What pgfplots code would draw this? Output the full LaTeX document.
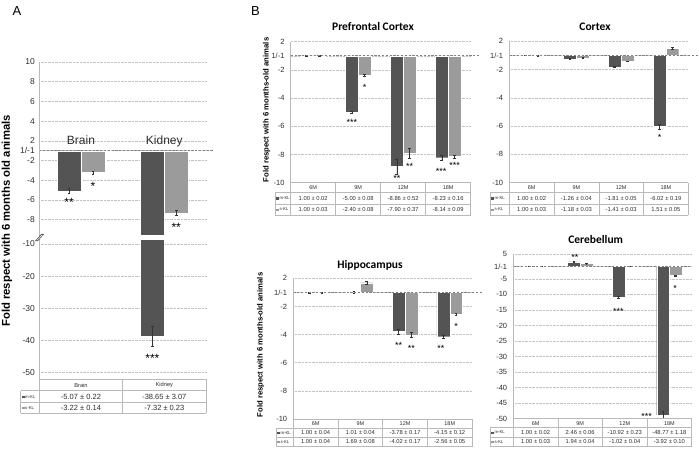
\documentclass[border=0pt]{standalone}
\usepackage{pgfplots}
\pgfplotsset{compat=1.18}
\usepackage{pgfplotstable}
\usepackage{fontspec}
\setmainfont{Liberation Sans}
\newfontfamily\titlefont{Carlito}
\definecolor{mkl}{RGB}{84,84,84}
\definecolor{skl}{RGB}{155,155,155}
\definecolor{txt}{RGB}{45,45,45}
\definecolor{gridc}{RGB}{195,195,195}
\definecolor{tblc}{RGB}{185,185,185}
\definecolor{basec}{RGB}{130,130,130}

% x = category index, m = m-KL fold, me = its error, s = s-KL fold, se = its error
\pgfplotstableread{
x m me s se
0 -5.07 0.22 -3.22 0.14
1 -38.65 3.07 -7.32 0.23
}\dataA
\pgfplotstableread{
x m me s se
0 1.00 0.02 1.00 0.03
1 -5.00 0.08 -2.40 0.08
2 -8.86 0.52 -7.90 0.37
3 -8.23 0.16 -8.14 0.09
}\dataPFC
\pgfplotstableread{
x m me s se
0 1.00 0.02 1.00 0.03
1 -1.26 0.04 -1.18 0.03
2 -1.81 0.05 -1.41 0.03
3 -6.02 0.19 1.51 0.05
}\dataCTX
\pgfplotstableread{
x m me s se
0 1.00 0.04 1.00 0.04
1 1.01 0.04 1.69 0.08
2 -3.78 0.17 -4.02 0.17
3 -4.15 0.12 -2.56 0.05
}\dataHIP
\pgfplotstableread{
x m me s se
0 1.00 0.02 1.00 0.03
1 2.46 0.06 1.94 0.04
2 -10.92 0.23 -1.02 0.04
3 -48.77 1.18 -3.92 0.10
}\dataCER

\pgfplotsset{
  foldaxis/.style={
    scale only axis, anchor=south west,
    xmin=-0.5, xmax=3.5, xtick=\empty,
    ymajorgrids, grid style={densely dotted, gridc, line width=0.5pt},
    axis line style={draw=none},
    ytick style={draw=none},
    yticklabel style={inner sep=0pt, font=\fontsize{7.5}{8}\selectfont, text=txt},
    clip mode=individual,
  },
  mbar/.style={ybar, bar width=0.286, bar shift=0, fill=mkl, draw=white, line width=0.3pt},
  sbar/.style={ybar, bar width=0.286, bar shift=0, fill=skl, draw=white, line width=0.3pt},
  ebar/.style={error bars/y dir=both, error bars/y explicit,
    error bars/error bar style={line width=0.45pt, black!80},
    error bars/error mark options={rotate=90, mark size=1.3pt, line width=0.45pt, black!80}},
}
\tikzset{
  star/.style={font=\fontsize{9}{9}\selectfont, inner sep=0pt, anchor=base, yshift=-5.2pt, text=black},
  starA/.style={font=\fontsize{12}{12}\selectfont, inner sep=0pt, anchor=base, yshift=-6.9pt, text=black},
  zero/.style={basec, dash pattern=on 2.2pt off 1.6pt, line width=0.7pt},
}

% table frame: #1 label-col left, #2 plot left, #3 col width, #4 ncols, #5 top, #6 below header, #7 below row1, #8 bottom
\newcommand{\ftable}[8]{%
  \pgfmathsetmacro{\xR}{#2+#3*#4}%
  \draw[tblc, line width=0.5pt] (#2,#5) -- (\xR,#5);
  \draw[tblc, line width=0.5pt] (#1,#6) -- (\xR,#6);
  \draw[tblc, line width=0.5pt] (#1,#7) -- (\xR,#7);
  \draw[tblc, line width=0.5pt] (#1,#8) -- (\xR,#8);
  \draw[tblc, line width=0.5pt] (#1,#6) -- (#1,#8);
  \foreach \ii in {0,...,#4} {\draw[tblc, line width=0.5pt] ({#2+#3*\ii},#5) -- ({#2+#3*\ii},#8);}
}
% table row: #1 plot left, #2 col width, #3 y, #4 font size, #5 items
\newcommand{\trow}[5]{%
  \foreach \tx [count=\ii from 0] in {#5} {%
    \node[font=\fontsize{#4}{#4}\selectfont, text=txt, inner sep=0pt] at ({#1+#2*(\ii+0.5)},#3) {\tx};}
}
% row labels: #1 x, #2 y m-KL, #3 y s-KL, #4 font size
\newcommand{\rlab}[4]{%
  \node[font=\fontsize{#4}{#4}\selectfont, text=txt, anchor=west, inner sep=0pt] at (#1+1.2,#2) {\textcolor{mkl}{\rule{2.4pt}{2.4pt}}\,m-KL};
  \node[font=\fontsize{#4}{#4}\selectfont, text=txt, anchor=west, inner sep=0pt] at (#1+1.2,#3) {\textcolor{skl}{\rule{2.4pt}{2.4pt}}\,s-KL};
}

\begin{document}
\begin{tikzpicture}
\useasboundingbox (0pt,0pt) rectangle (699pt,452pt);

% ---------- Panel A, upper part ----------
\begin{axis}[foldaxis, at={(39.3pt,217pt)}, width=166.7pt, height=173pt,
  xmin=-0.5, xmax=1.5, ymin=-8.553, ymax=9,
  ytick={9,7,5,3,1,0,-1,-3,-5,-7},
  yticklabels={10,8,6,4,2,1/-1,-2,-4,-6,-8},
  yticklabel style={font=\fontsize{8.5}{9}\selectfont, xshift=-4.3pt}]
\addplot[mbar, ebar] table[x expr={\thisrow{x}-0.143}, y expr={\thisrow{m}>0 ? \thisrow{m}-1 : \thisrow{m}+1}, y error=me] {\dataA};
\addplot[sbar, ebar] table[x expr={\thisrow{x}+0.143}, y expr={\thisrow{s}>0 ? \thisrow{s}-1 : \thisrow{s}+1}, y error=se] {\dataA};
\draw[zero] (axis cs:-0.5,0) -- (axis cs:1.58,0);
\node[anchor=base, font=\fontsize{12}{12}\selectfont, text=txt] at (axis cs:0,0.65) {Brain};
\node[anchor=base, font=\fontsize{12}{12}\selectfont, text=txt] at (axis cs:1,0.65) {Kidney};
\node[starA] at (axis cs:-0.143,-5.0) {**};
\node[starA] at (axis cs:0.143,-3.31) {*};
\node[starA] at (axis cs:1.143,-7.54) {**};
\end{axis}

% ---------- Panel A, lower part ----------
\begin{axis}[foldaxis, at={(39.3pt,72.7pt)}, width=166.7pt, height=140pt,
  xmin=-0.5, xmax=1.5, ymin=-52.05, ymax=-8.54,
  ytick={-10,-20,-30,-40,-50}, yticklabels={-10,-20,-30,-40,-50},
  yticklabel style={font=\fontsize{8.5}{9}\selectfont, xshift=-4.3pt}]
\addplot[mbar, ebar] table[x expr={\thisrow{x}-0.143}, y=m, y error=me] {\dataA};
\node[starA] at (axis cs:0.857,-44.7) {***};
\end{axis}

% ---------- Prefrontal Cortex ----------
\begin{axis}[foldaxis, at={(290.7pt,269.3pt)}, width=180pt, height=141pt,
  ymin=-9, ymax=1, ytick={1,0,-1,-3,-5,-7,-9}, yticklabels={2,1/-1,-2,-4,-6,-8,-10},
  yticklabel style={xshift=-6pt}]
\addplot[mbar, ebar] table[x expr={\thisrow{x}-0.143}, y expr={\thisrow{m}>0 ? \thisrow{m}-1 : \thisrow{m}+1}, y error=me] {\dataPFC};
\addplot[sbar, ebar] table[x expr={\thisrow{x}+0.143}, y expr={\thisrow{s}>0 ? \thisrow{s}-1 : \thisrow{s}+1}, y error=se] {\dataPFC};
\draw[zero] (axis cs:-0.5,0) -- (axis cs:3.7,0);
\draw[tblc, line width=0.5pt] (rel axis cs:0,0) -- (rel axis cs:0,1);
\node[star] at (axis cs:0.857,-4.56) {***};
\node[star] at (axis cs:1.143,-2.08) {*};
\node[star] at (axis cs:1.857,-8.53) {**};
\node[star] at (axis cs:2.143,-7.68) {**};
\node[star] at (axis cs:2.845,-8.06) {***};
\node[star] at (axis cs:3.143,-7.63) {***};
\end{axis}

% ---------- Cortex ----------
\begin{axis}[foldaxis, at={(509.3pt,269.3pt)}, width=179pt, height=141.4pt,
  ymin=-9, ymax=1, ytick={1,0,-1,-3,-5,-7,-9}, yticklabels={2,1/-1,-2,-4,-6,-8,-10},
  yticklabel style={xshift=-6pt}]
\addplot[mbar, ebar] table[x expr={\thisrow{x}-0.143}, y expr={\thisrow{m}>0 ? \thisrow{m}-1 : \thisrow{m}+1}, y error=me] {\dataCTX};
\addplot[sbar, ebar] table[x expr={\thisrow{x}+0.143}, y expr={\thisrow{s}>0 ? \thisrow{s}-1 : \thisrow{s}+1}, y error=se] {\dataCTX};
\draw[zero] (axis cs:-0.5,0) -- (axis cs:3.72,0);
\draw[tblc, line width=0.5pt] (rel axis cs:0,0) -- (rel axis cs:0,1);
\node[star] at (axis cs:2.857,-5.62) {*};
\end{axis}

% ---------- Hippocampus ----------
\begin{axis}[foldaxis, at={(293.3pt,33pt)}, width=178.8pt, height=140.7pt,
  ymin=-9, ymax=1, ytick={1,0,-1,-3,-5,-7,-9}, yticklabels={2,1/-1,-2,-4,-6,-8,-10},
  yticklabel style={xshift=-6pt}]
\addplot[mbar, ebar] table[x expr={\thisrow{x}-0.143}, y expr={\thisrow{m}>0 ? \thisrow{m}-1 : \thisrow{m}+1}, y error=me] {\dataHIP};
\addplot[sbar, ebar] table[x expr={\thisrow{x}+0.143}, y expr={\thisrow{s}>0 ? \thisrow{s}-1 : \thisrow{s}+1}, y error=se] {\dataHIP};
\draw[zero] (axis cs:-0.5,0) -- (axis cs:3.73,0);
\draw[tblc, line width=0.5pt] (rel axis cs:0,0) -- (rel axis cs:0,1);
\node[star] at (axis cs:1.857,-3.62) {**};
\node[star] at (axis cs:2.143,-3.81) {**};
\node[star] at (axis cs:2.8,-3.86) {**};
\node[star] at (axis cs:3.143,-2.25) {*};
\end{axis}

% ---------- Cerebellum ----------
\begin{axis}[foldaxis, at={(513.3pt,33.3pt)}, width=178.4pt, height=164.7pt,
  ymin=-49, ymax=4, ytick={4,0,-4,-9,-14,-19,-24,-29,-34,-39,-44,-49},
  yticklabels={5,1/-1,-5,-10,-15,-20,-25,-30,-35,-40,-45,-50},
  yticklabel style={xshift=-6pt}]
\addplot[mbar, ebar] table[x expr={\thisrow{x}-0.143}, y expr={\thisrow{m}>0 ? \thisrow{m}-1 : \thisrow{m}+1}, y error=me] {\dataCER};
\addplot[sbar, ebar] table[x expr={\thisrow{x}+0.143}, y expr={\thisrow{s}>0 ? \thisrow{s}-1 : \thisrow{s}+1}, y error=se] {\dataCER};
\draw[zero] (axis cs:-0.5,0) -- (axis cs:3.5,0);
\draw[tblc, line width=0.5pt] (rel axis cs:0,0) -- (rel axis cs:0,1);
\node[star] at (axis cs:0.883,3.67) {**};
\node[star] at (axis cs:1.854,-13.7) {***};
\node[star] at (axis cs:2.49,-47.6) {***};
\node[star] at (axis cs:3.13,-6.3) {*};
\end{axis}

% ---------- texts and data tables (image pixel coordinates, y downwards) ----------
\begin{scope}[x=1pt, y=-1pt, yshift=452pt]
\node[font=\fontsize{13}{13}\selectfont] at (17,11) {A};
\node[font=\fontsize{13}{13}\selectfont] at (255.5,11) {B};
\node[font=\titlefont\bfseries\fontsize{11.5}{12}\selectfont] at (373,26.7) {Prefrontal Cortex};
\node[font=\titlefont\bfseries\fontsize{11.5}{12}\selectfont] at (595,26.7) {Cortex};
\node[font=\titlefont\bfseries\fontsize{11.5}{12}\selectfont] at (370,265) {Hippocampus};
\node[font=\titlefont\bfseries\fontsize{11.5}{12}\selectfont] at (595.7,239.3) {Cerebellum};
\node[rotate=90, font=\bfseries\fontsize{11.3}{12}\selectfont] at (7,221) {Fold respect with 6 months old animals};
\node[rotate=90, font=\bfseries\fontsize{7.7}{8}\selectfont] at (266.7,110) {Fold respect with 6 months-old animals};
\node[rotate=90, font=\bfseries\fontsize{7.7}{8}\selectfont] at (260.7,345) {Fold respect with 6 months-old animals};
% panel A axis line and break mark
\draw[tblc, line width=0.5pt] (39.3,62) -- (39.3,379.3);
\fill[mkl] (34.8,241.2) -- (37.8,241.2) -- (44.2,234) -- (41.2,234) -- cycle;
\fill[white] (36.6,240.3) -- (37.4,240.3) -- (42.6,234.9) -- (41.8,234.9) -- cycle;
% panel A table
\ftable{20.7}{39.3}{83.35}{2}{379.3}{390.7}{402.7}{413.3}
\trow{39.3}{83.35}{385}{5.7}{Brain,Kidney}
\trow{39.3}{83.35}{396.7}{7.5}{-5.07 ± 0.22,-38.65 ± 3.07}
\trow{39.3}{83.35}{408}{7.5}{-3.22 ± 0.14,-7.32 ± 0.23}
\rlab{20.7}{396.7}{408}{4.3}
% Prefrontal table
\ftable{275}{290.7}{45}{4}{182.7}{192.7}{204}{215}
\trow{290.7}{45}{187.7}{5.5}{6M,9M,12M,18M}
\trow{290.7}{45}{198.3}{5.8}{1.00 ± 0.02,-5.00 ± 0.08,-8.86 ± 0.52,-8.23 ± 0.16}
\trow{290.7}{45}{209.5}{5.8}{1.00 ± 0.03,-2.40 ± 0.08,-7.90 ± 0.37,-8.14 ± 0.09}
\rlab{275}{198.3}{209.5}{4.3}
% Cortex table
\ftable{490}{509.3}{44.75}{4}{182.7}{192.7}{204}{215}
\trow{509.3}{44.75}{187.7}{5.5}{6M,9M,12M,18M}
\trow{509.3}{44.75}{198.3}{5.8}{1.00 ± 0.02,-1.26 ± 0.04,-1.81 ± 0.05,-6.02 ± 0.19}
\trow{509.3}{44.75}{209.5}{5.8}{1.00 ± 0.03,-1.18 ± 0.03,-1.41 ± 0.03,1.51 ± 0.05}
\rlab{490}{198.3}{209.5}{4.3}
% Hippocampus table
\ftable{276}{293.3}{44.7}{4}{419}{428.3}{437.3}{446.7}
\trow{293.3}{44.7}{423.7}{5.5}{6M,9M,12M,18M}
\trow{293.3}{44.7}{432.8}{5.8}{1.00 ± 0.04,1.01 ± 0.04,-3.78 ± 0.17,-4.15 ± 0.12}
\trow{293.3}{44.7}{442}{5.8}{1.00 ± 0.04,1.69 ± 0.08,-4.02 ± 0.17,-2.56 ± 0.05}
\rlab{276}{432.8}{442}{4.3}
% Cerebellum table
\ftable{490}{513.3}{44.6}{4}{418.7}{427.7}{437.3}{446.7}
\trow{513.3}{44.6}{423.2}{5.5}{6M,9M,12M,18M}
\trow{513.3}{44.6}{432.5}{5.8}{1.00 ± 0.02,2.46 ± 0.06,-10.92 ± 0.23,-48.77 ± 1.18}
\trow{513.3}{44.6}{442}{5.8}{1.00 ± 0.03,1.94 ± 0.04,-1.02 ± 0.04,-3.92 ± 0.10}
\rlab{490}{432.5}{442}{4.3}
\end{scope}
\end{tikzpicture}
\end{document}
